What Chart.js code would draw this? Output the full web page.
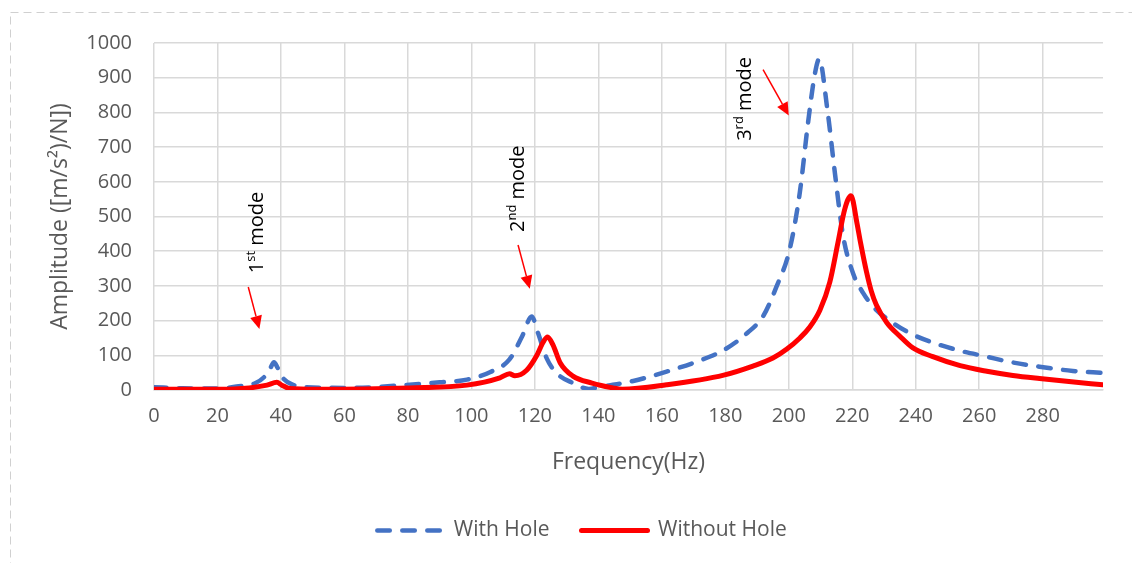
<!DOCTYPE html>
<html>
<head>
<meta charset="utf-8">
<script src="https://cdn.jsdelivr.net/npm/chart.js@4/dist/chart.umd.min.js"></script>
<style>
  html, body { margin: 0; padding: 0; background: #fff; overflow: hidden; }
  canvas { display: block; }
</style>
</head>
<body>
<canvas id="c" width="1132" height="563"></canvas>
<script>
// ---- Data ----
const seriesNames = ['With Hole', 'Without Hole'];

const withHoleFreq = [0, 9, 20, 26, 32, 35, 36.5, 37.8, 39, 40.6, 43.8, 48, 62, 77, 90, 98.6, 106, 112, 116, 119,
  121, 123.7, 126.8, 132, 137, 140.5, 144.6, 151, 161.5, 172, 179.5, 187, 192, 196, 200.3, 203.5, 206, 208.2, 209.6,
  212.1, 214.6, 217.1, 220.3, 223.4, 226.6, 232.7, 239, 246.6, 254, 262.4, 269.6, 279, 289.5, 299];
const withHoleAmp = [8, 5, 4, 10, 20, 40, 60, 80, 63, 35, 15, 8, 6, 13, 22, 30, 52, 88, 155, 212,
  164, 92, 49, 20, 3, 9, 15, 26, 53, 85, 115, 165, 214, 295, 406, 571, 765, 910, 954,
  812, 620, 445, 335, 280, 240, 194, 160, 133, 113, 96, 81, 67, 55, 49];

const withoutHoleFreq = [0, 20, 30, 35.6, 38.7, 40.3, 42.8, 51, 80.6, 98.6, 109, 112, 113.7, 117.4, 120.5, 122.5, 124,
  125.7, 128, 132, 138, 144.6, 147.5, 161.5, 179.5, 188.7, 195, 199.4, 203.5, 206.5, 209.8, 212.9, 215.5, 217.6, 219.6,
  221.5, 222.6, 224.5, 226, 227.6, 230.9, 235, 239, 245.4, 254, 262.4, 270.6, 279, 287.5, 299];
const withoutHoleAmp = [2, 2, 6, 14, 22, 14, 4, 2, 6, 14, 35, 47, 41, 57, 98, 136, 153,
  130, 78, 40, 20, 6, 2, 15, 43, 69, 92, 118, 150, 180, 230, 310, 425, 520, 560,
  480, 425, 340, 285, 245, 194, 155, 122, 96, 70, 54, 42, 33, 25, 15];

const xTickValues = [0, 20, 40, 60, 80, 100, 120, 140, 160, 180, 200, 220, 240, 260, 280];
const yTickValues = [0, 100, 200, 300, 400, 500, 600, 700, 800, 900, 1000];

const xTitle = 'Frequency(Hz)';
const yTitle = 'Amplitude ([m/s²)/N])';

// Mode annotations (data coordinates)
const modeNums = ['1', '2', '3'];
const modeSups = ['st', 'nd', 'rd'];
const modeTextX = [32.0, 114.5, 185.8];
const modeTextY = [454, 580, 839];
const arrowFromX = [29.7, 114.7, 191.9];
const arrowFromY = [297, 418, 923];
const arrowToX = [33.2, 118.4, 200.0];
const arrowToY = [176, 292, 791];

// ---- Build ----
const toXY = (xs, ys) => xs.map((x, i) => ({ x: x, y: ys[i] }));
const FONT = '"Open Sans", "Liberation Sans", sans-serif';
const GREY = '#595959';

const borderPlugin = {
  id: 'chartBorder',
  beforeDraw(chart) {
    const ctx = chart.ctx;
    ctx.save();
    ctx.strokeStyle = '#d0d0d0';
    ctx.lineWidth = 1;
    ctx.setLineDash([8, 5]);
    ctx.strokeRect(10.5, 12.5, chart.width + 20, chart.height + 20);
    ctx.restore();
  }
};

const modePlugin = {
  id: 'modes',
  afterDatasetsDraw(chart) {
    const ctx = chart.ctx;
    const xs = chart.scales.x, ys = chart.scales.y;
    ctx.save();
    for (let i = 0; i < modeNums.length; i++) {
      const x1 = xs.getPixelForValue(arrowFromX[i]), y1 = ys.getPixelForValue(arrowFromY[i]);
      const x2 = xs.getPixelForValue(arrowToX[i]), y2 = ys.getPixelForValue(arrowToY[i]);
      const ang = Math.atan2(y2 - y1, x2 - x1);
      const head = 13, half = 6;
      const bx = x2 - Math.cos(ang) * head, by = y2 - Math.sin(ang) * head;
      ctx.strokeStyle = '#FF0000';
      ctx.fillStyle = '#FF0000';
      ctx.lineWidth = 1.5;
      ctx.beginPath();
      ctx.moveTo(x1, y1);
      ctx.lineTo(bx, by);
      ctx.stroke();
      ctx.beginPath();
      ctx.moveTo(x2, y2);
      ctx.lineTo(bx + Math.sin(ang) * half, by - Math.cos(ang) * half);
      ctx.lineTo(bx - Math.sin(ang) * half, by + Math.cos(ang) * half);
      ctx.closePath();
      ctx.fill();
    }
    const mainFont = '20px ' + FONT;
    const supFont = '13px ' + FONT;
    for (let i = 0; i < modeNums.length; i++) {
      const cx = xs.getPixelForValue(modeTextX[i]);
      const cy = ys.getPixelForValue(modeTextY[i]);
      ctx.font = mainFont;
      const w1 = ctx.measureText(modeNums[i]).width;
      const w3 = ctx.measureText(' mode').width;
      ctx.font = supFont;
      const w2 = ctx.measureText(modeSups[i]).width;
      const total = w1 + w2 + w3;
      ctx.save();
      ctx.translate(cx, cy);
      ctx.rotate(-Math.PI / 2);
      ctx.fillStyle = '#000000';
      ctx.textBaseline = 'alphabetic';
      ctx.textAlign = 'left';
      let px = -total / 2;
      const base = 7;
      ctx.font = mainFont;
      ctx.fillText(modeNums[i], px, base);
      px += w1;
      ctx.font = supFont;
      ctx.fillText(modeSups[i], px, base - 8);
      px += w2;
      ctx.font = mainFont;
      ctx.fillText(' mode', px, base);
      ctx.restore();
    }
    ctx.restore();
  }
};

const chart = new Chart(document.getElementById('c'), {
  type: 'line',
  data: {
    datasets: [
      {
        label: seriesNames[0],
        data: toXY(withHoleFreq, withHoleAmp),
        borderColor: '#4472C4',
        backgroundColor: '#4472C4',
        borderWidth: 4.5,
        borderDash: [12.5, 12.5],
        borderCapStyle: 'round',
        borderJoinStyle: 'round',
        pointRadius: 0,
        cubicInterpolationMode: 'monotone',
        fill: false,
        order: 1
      },
      {
        label: seriesNames[1],
        data: toXY(withoutHoleFreq, withoutHoleAmp),
        borderColor: '#FF0000',
        backgroundColor: '#FF0000',
        borderWidth: 5,
        borderCapStyle: 'round',
        borderJoinStyle: 'round',
        pointRadius: 0,
        cubicInterpolationMode: 'monotone',
        fill: false,
        order: 0
      }
    ]
  },
  options: {
    responsive: false,
    maintainAspectRatio: false,
    animation: false,
    devicePixelRatio: 1,
    layout: { padding: { left: 61, right: 29, top: 43, bottom: 12 } },
    plugins: {
      tooltip: { enabled: false },
      legend: {
        position: 'bottom',
        labels: {
          usePointStyle: true,
          pointStyle: 'line',
          pointStyleWidth: 66,
          padding: 32,
          color: GREY,
          font: { family: FONT, size: 21 },
          sort: (a, b) => a.datasetIndex - b.datasetIndex,
          generateLabels: (ch) => Chart.defaults.plugins.legend.labels.generateLabels(ch).map(l => {
            const ds = ch.data.datasets[l.datasetIndex];
            return Object.assign({}, l, {
              lineDash: ds.borderDash || [],
              lineWidth: ds.borderWidth,
              lineCap: 'round',
              strokeStyle: ds.borderColor,
              fillStyle: ds.borderColor
            });
          })
        }
      }
    },
    scales: {
      x: {
        type: 'linear',
        min: 0,
        max: 299,
        afterBuildTicks: (s) => { s.ticks = xTickValues.map(v => ({ value: v })); },
        afterFit: (s) => { s.height = 98; },
        ticks: { color: GREY, font: { family: FONT, size: 20 }, padding: 14, maxRotation: 0, autoSkip: false,
                 callback: (v) => String(v) },
        grid: { color: '#d9d9d9', lineWidth: 1.5, drawTicks: false },
        border: { color: '#d9d9d9', width: 1.5 },
        title: { display: true, text: xTitle, color: GREY, font: { family: FONT, size: 23 }, padding: { top: 0, bottom: 12 } }
      },
      y: {
        type: 'linear',
        min: 0,
        max: 1000,
        afterBuildTicks: (s) => { s.ticks = yTickValues.map(v => ({ value: v })); },
        afterFit: (s) => { s.width = 93; },
        ticks: { color: GREY, font: { family: FONT, size: 20 }, padding: 22, callback: (v) => String(v) },
        grid: { color: '#d9d9d9', lineWidth: 1.5, drawTicks: false },
        border: { display: false },
        title: { display: true, text: yTitle, color: GREY, font: { family: FONT, size: 23 }, padding: { top: -14.8, bottom: 0 } }
      }
    }
  },
  plugins: [borderPlugin, modePlugin]
});
</script>
</body>
</html>
